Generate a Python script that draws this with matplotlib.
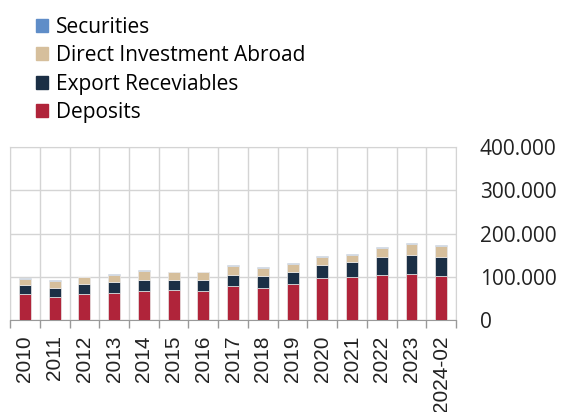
import matplotlib
matplotlib.use("Agg")
import matplotlib.pyplot as plt
from matplotlib.patches import Patch
from matplotlib.ticker import FuncFormatter, MultipleLocator
import numpy as np

categories = ["2010", "2011", "2012", "2013", "2014", "2015", "2016", "2017",
              "2018", "2019", "2020", "2021", "2022", "2023", "2024-02"]
deposits = [61500, 54600, 60800, 63000, 67000, 69200, 67700, 78500,
            75400, 84600, 98500, 100800, 104600, 107700, 103000]
export_receivables = [19300, 20000, 22200, 24700, 25300, 23100, 24600, 25300,
                      26900, 26900, 28400, 33000, 41600, 42300, 43200]
direct_investment = [13800, 15400, 16200, 16100, 21500, 18500, 18500, 20800,
                     17700, 19300, 19300, 17000, 20700, 26200, 25300]
securities = [3100, 2300, 1600, 2200, 2200, 1500, 1500, 2300,
              2300, 1500, 2300, 2200, 2300, 1500, 1500]

c_dep = "#B0243A"
c_exp = "#1B2F45"
c_dia = "#D6BF9C"
c_sec = "#5F8DC8"

plt.rcParams['font.family'] = ['Open Sans', 'DejaVu Sans']

fig = plt.figure(figsize=(5.61, 4.12), dpi=100)
ax = fig.add_axes([0.018, 0.223, 0.795, 0.42])

x = np.arange(len(categories))
w = 0.4
ec = "#e8e8e8"
b1 = np.array(deposits)
b2 = b1 + np.array(export_receivables)
b3 = b2 + np.array(direct_investment)
ax.bar(x, deposits, w, color=c_dep, edgecolor=ec, linewidth=0.5, zorder=3)
ax.bar(x, export_receivables, w, bottom=b1, color=c_exp, edgecolor=ec, linewidth=0.5, zorder=3)
ax.bar(x, direct_investment, w, bottom=b2, color=c_dia, edgecolor=ec, linewidth=0.5, zorder=3)
ax.bar(x, securities, w, bottom=b3, color=c_sec, edgecolor=ec, linewidth=0.5, zorder=3)

ax.set_xlim(-0.5, len(categories) - 0.5)
ax.set_ylim(0, 400000)
ax.yaxis.set_major_locator(MultipleLocator(100000))
ax.yaxis.set_major_formatter(FuncFormatter(lambda v, p: "0" if v == 0 else f"{int(v):,}".replace(",", ".")))
ax.yaxis.tick_right()
ax.tick_params(axis='y', length=0, pad=17, labelsize=15, labelcolor="#222222")
for lab in ax.get_yticklabels():
    lab.set_horizontalalignment('left')

ax.set_xticks(x)
ax.set_xticklabels(categories, rotation=90, fontsize=15, color="#222222",
                   family=['Liberation Sans', 'DejaVu Sans'])
ax.tick_params(axis='x', length=0, pad=11)
ax.set_xticks(np.arange(-0.5, len(categories)), minor=True)
ax.tick_params(axis='x', which='minor', length=6, color="#999999", width=1)

ax.grid(True, axis='y', which='major', color="#d4d4d4", linewidth=1, zorder=0)
ax.grid(True, axis='x', which='minor', color="#d4d4d4", linewidth=1, zorder=0)
for s in ['top', 'right', 'left']:
    ax.spines[s].set_color("#d4d4d4")
ax.spines['bottom'].set_color("#999999")

handles = [Patch(color=c_sec, label="Securities"),
           Patch(color=c_dia, label="Direct Investment Abroad"),
           Patch(color=c_exp, label="Export Receviables"),
           Patch(color=c_dep, label="Deposits")]
fig.legend(handles=handles, loc='upper left', bbox_to_anchor=(0.038, 0.995),
           frameon=False, fontsize=15, handlelength=0.58, handleheight=0.58,
           handletextpad=0.4, labelspacing=0.36, borderaxespad=0.3)

fig.savefig("out.png", dpi=100)
